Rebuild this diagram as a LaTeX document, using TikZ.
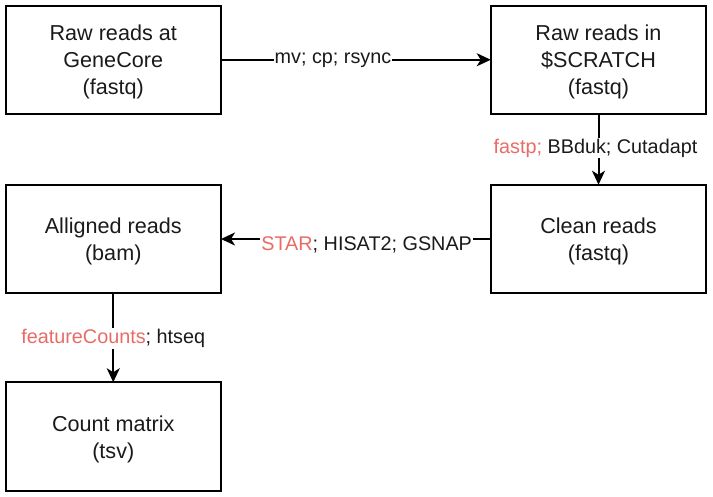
\documentclass[tikz,border=0pt]{standalone}
\usepackage{fontspec}
\setmainfont{Liberation Sans}
\usetikzlibrary{arrows.meta}
\definecolor{redt}{HTML}{EA6B66}
\definecolor{textc}{HTML}{1A1A1A}
\newcommand\myboxstrut{\rule{0pt}{20.8pt}}
\tikzset{
  box/.style={draw=black, line width=2pt, rectangle, minimum width=215.5pt, minimum height=108.5pt,
    inner sep=0pt, outer sep=0pt, align=center, text=textc, font=\fontsize{21.6}{27}\selectfont},
  conn/.style={draw=black, line width=2pt, -{Stealth[length=14pt,width=13pt,inset=4pt]}},
  lbl/.style={fill=white, inner sep=1pt, text=textc, font=\fontsize{19.8}{24}\selectfont}
}
\begin{document}
\begin{tikzpicture}[x=1pt,y=-1pt]
\useasboundingbox (0,0) rectangle (713,496);
\node[box] (raw) at (113.25,59.75) {\myboxstrut Raw reads at\\GeneCore\\(fastq)};
\node[box] (scr) at (598.5,59.75) {\myboxstrut Raw reads in\\\$SCRATCH\\(fastq)};
\node[box] (aln) at (113.25,239) {\myboxstrut Alligned reads\\(bam)};
\node[box] (cln) at (598.5,239) {\myboxstrut Clean reads\\(fastq)};
\node[box] (cnt) at (113.25,436.5) {\myboxstrut Count matrix\\(tsv)};
\draw[conn] (raw) -- node[lbl, pos=0.415] {mv; cp; rsync} (scr);
\draw[conn] (scr) -- node[lbl, pos=0.48, xshift=-3pt] {{\color{redt}fastp;} BBduk; Cutadapt} (cln);
\draw[conn] (cln) -- node[lbl, pos=0.46, yshift=-6pt] {{\color{redt}STAR}; HISAT2; GSNAP} (aln);
\draw[conn] (aln) -- node[lbl, pos=0.51] {{\color{redt}featureCounts}; htseq} (cnt);
\end{tikzpicture}
\end{document}
